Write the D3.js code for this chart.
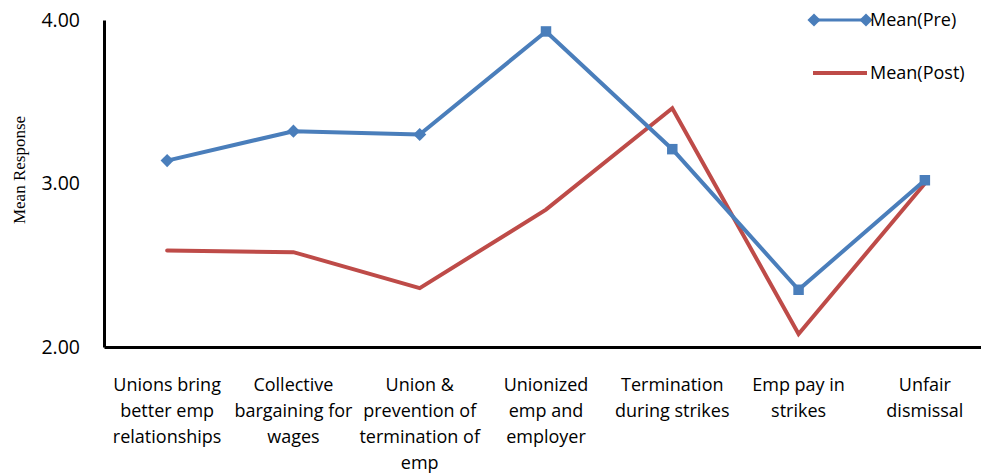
<!DOCTYPE html>
<html>
<head>
<meta charset="utf-8">
<script src="https://cdn.jsdelivr.net/npm/d3@7"></script>
<style>
  html, body { margin: 0; padding: 0; background: #fff; }
  svg { display: block; }
</style>
</head>
<body>
<svg id="chart" width="981" height="473"></svg>
<script>
const categories = [
  ["Unions bring", "better emp", "relationships"],
  ["Collective", "bargaining for", "wages"],
  ["Union &", "prevention of", "termination of", "emp"],
  ["Unionized", "emp and", "employer"],
  ["Termination", "during strikes"],
  ["Emp pay in", "strikes"],
  ["Unfair", "dismissal"]
];
const meanPre  = [3.14, 3.32, 3.30, 3.93, 3.21, 2.35, 3.02];
const meanPost = [2.59, 2.58, 2.36, 2.84, 3.46, 2.08, 3.00];
const yTicks = [2, 3, 4];
const seriesNames = ["Mean(Pre)", "Mean(Post)"];
const yTitle = "Mean Response";

const svg = d3.select("#chart");
const font = "'Open Sans', Lato, sans-serif";
const blue = "#4a7ebb", red = "#be4b48";

const x = d3.scaleBand().domain(d3.range(categories.length)).range([104, 988]);
const y = d3.scaleLinear().domain([2, 4]).range([347, 20]);
const cx = i => x(i) + x.bandwidth() / 2;

// Y axis
const yAxis = svg.append("g").attr("transform", "translate(104,0)")
  .call(d3.axisLeft(y).tickValues(yTicks).tickFormat(d3.format(".2f")).tickSize(0).tickPadding(24));
yAxis.select(".domain").attr("stroke", "#000").attr("stroke-width", 3);
yAxis.selectAll("text").attr("font-family", font).attr("font-size", 19.5).attr("fill", "#000");

// X axis
const xAxis = svg.append("g").attr("transform", "translate(0,347)")
  .call(d3.axisBottom(x).tickSize(0).tickFormat(""));
xAxis.select(".domain").attr("stroke", "#000").attr("stroke-width", 3);

// X labels
const lbl = svg.append("g");
categories.forEach((lines, i) => {
  const t = lbl.append("text").attr("x", cx(i)).attr("y", 391)
    .attr("text-anchor", "middle").attr("font-family", font).attr("font-size", 18).attr("fill", "#000");
  lines.forEach((l, j) => t.append("tspan").attr("x", cx(i)).attr("dy", j === 0 ? 0 : 26).text(l));
});

// Y title
svg.append("text").attr("transform", "translate(25,170) rotate(-90)")
  .attr("text-anchor", "middle").attr("font-family", "'Liberation Serif', 'DejaVu Serif', serif")
  .attr("font-size", 17).attr("fill", "#000").text(yTitle);

const line = d3.line().x((d, i) => cx(i)).y(d => y(d));

// Post line
svg.append("path").datum(meanPost).attr("d", line).attr("fill", "none")
  .attr("stroke", red).attr("stroke-width", 4).attr("stroke-linejoin", "miter").attr("stroke-linecap", "round");

// Pre line
svg.append("path").datum(meanPre).attr("d", line).attr("fill", "none")
  .attr("stroke", blue).attr("stroke-width", 4).attr("stroke-linejoin", "round");

// Pre markers
const diamond = d3.symbol().type(d3.symbolDiamond2).size(110);
const square = d3.symbol().type(d3.symbolSquare).size(110);
svg.append("g").selectAll("path").data(meanPre).join("path")
  .attr("transform", (d, i) => `translate(${cx(i)},${y(d)})`)
  .attr("d", (d, i) => i < 3 ? diamond() : square())
  .attr("fill", blue);

// Legend
const leg = svg.append("g");
leg.append("line").attr("x1", 814).attr("x2", 866).attr("y1", 20).attr("y2", 20).attr("stroke", blue).attr("stroke-width", 3);
[814, 866].forEach(px => leg.append("path").attr("transform", `translate(${px},20)`).attr("d", diamond()).attr("fill", blue));
leg.append("text").attr("x", 870).attr("y", 20).attr("dy", "0.35em").attr("font-family", font).attr("font-size", 18).text(seriesNames[0]);
leg.append("line").attr("x1", 813).attr("x2", 867).attr("y1", 73).attr("y2", 73).attr("stroke", red).attr("stroke-width", 4);
leg.append("text").attr("x", 870).attr("y", 73).attr("dy", "0.35em").attr("font-family", font).attr("font-size", 18).text(seriesNames[1]);
</script>
</body>
</html>
